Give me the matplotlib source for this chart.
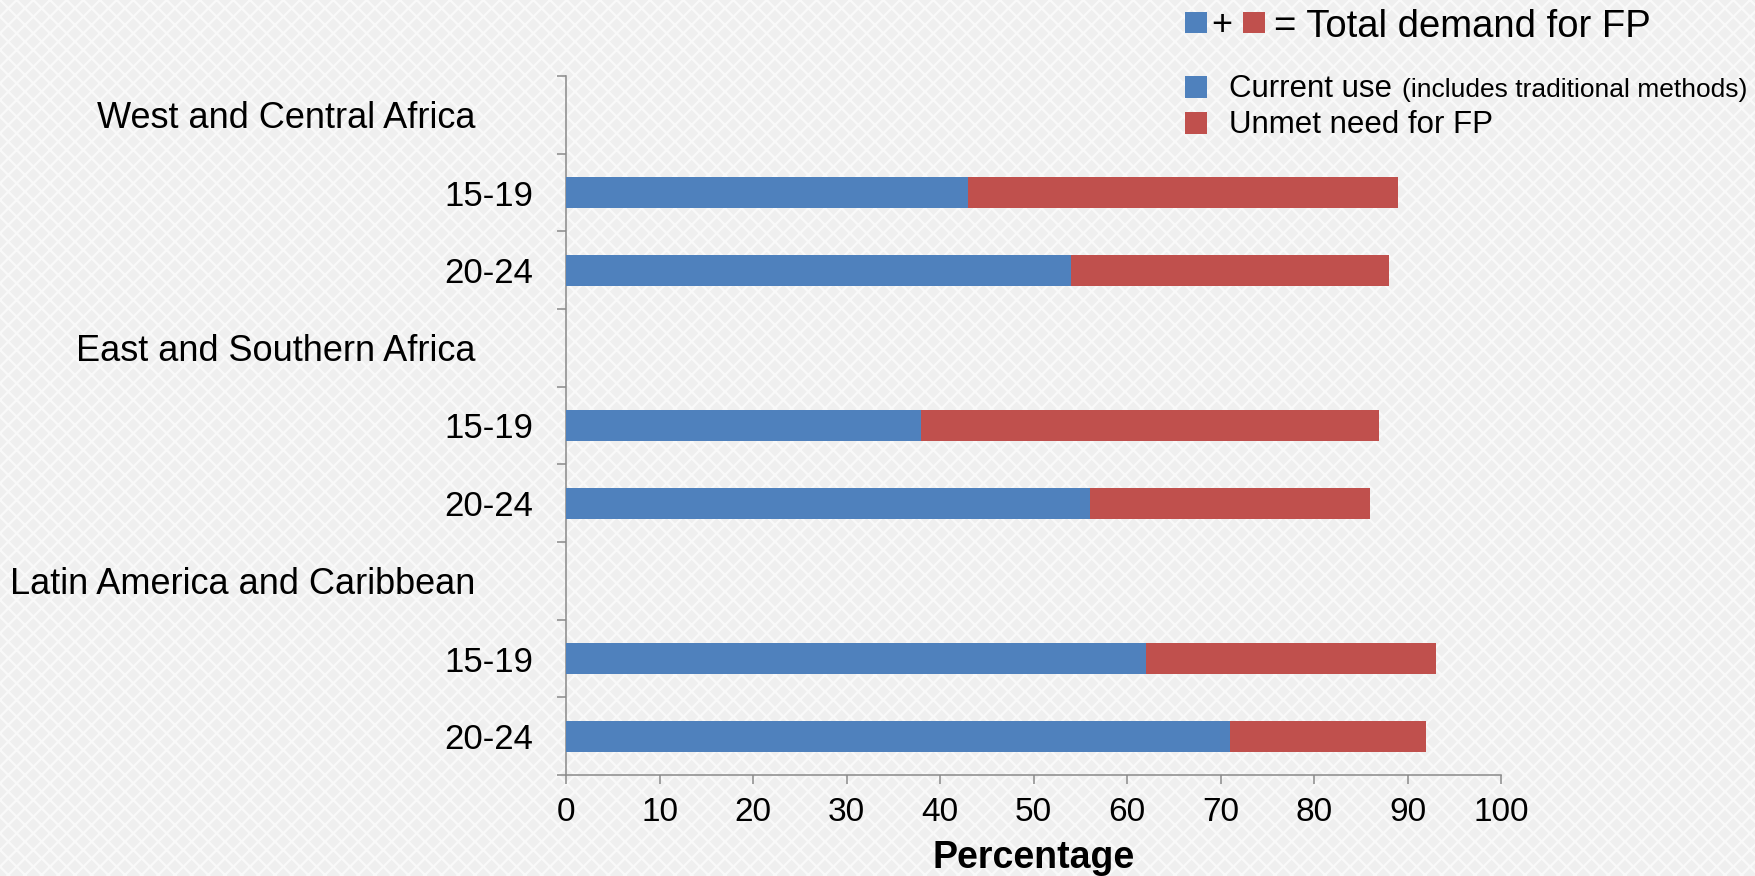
import matplotlib
matplotlib.use("Agg")
import matplotlib.pyplot as plt
from matplotlib.patches import Rectangle
import numpy as np

plt.rcParams['font.family'] = ['Liberation Sans', 'DejaVu Sans']
plt.rcParams['hatch.linewidth'] = 1.6

# data (percent)
regions = ["West and Central Africa", "East and Southern Africa", "Latin America and Caribbean"]
age_groups = ["15-19", "20-24"]
current_use = [43, 54, 38, 56, 62, 71]
unmet_need = [46, 34, 49, 30, 31, 21]
x_ticks = [0, 10, 20, 30, 40, 50, 60, 70, 80, 90, 100]

blue = '#4F81BD'
red = '#C0504D'
axis_grey = '#8a8a8a'

W, H = 1756, 876
fig = plt.figure(figsize=(W / 100, H / 100), dpi=100)

# crosshatched light background
fig.patches.append(Rectangle((0, 0), 1, 1, transform=fig.transFigure,
                             facecolor='#efefef', edgecolor='#f9f9f9',
                             hatch='xx', linewidth=0, zorder=-10))

ax = fig.add_axes([566 / W, 1 - 775 / H, 935 / W, 699 / H])
ax.set_facecolor('none')

# one header row per region followed by its age groups
n_per = len(age_groups) + 1
header_pos = [i * n_per for i in range(len(regions))]
bar_pos = [i * n_per + 1 + j for i in range(len(regions)) for j in range(len(age_groups))]
bar_labels = [a for _ in regions for a in age_groups]

ax.barh(bar_pos, current_use, height=0.4, color=blue, zorder=3)
ax.barh(bar_pos, unmet_need, left=current_use, height=0.4, color=red, zorder=3)

n_rows = n_per * len(regions)
ax.set_ylim(n_rows - 0.5, -0.5)
ax.set_xlim(0, 100)

ax.set_yticks(bar_pos)
ax.set_yticklabels(bar_labels, fontsize=25)
ax.set_yticks(np.arange(-0.5, n_rows, 1.0), minor=True)
ax.tick_params(axis='y', which='major', length=0, pad=23.5)
ax.tick_params(axis='y', which='minor', length=6.5, width=1.1, color=axis_grey, direction='out')

ax.set_xticks(x_ticks)
ax.set_xticklabels([str(t) for t in x_ticks], fontsize=24)
ax.tick_params(axis='x', length=6.5, width=1.1, color=axis_grey, direction='out', pad=9)

for s in ['top', 'right']:
    ax.spines[s].set_visible(False)
for s in ['left', 'bottom']:
    ax.spines[s].set_color(axis_grey)
    ax.spines[s].set_linewidth(1.1)

# region headers
tr = ax.get_yaxis_transform()
for name, y in zip(regions, header_pos):
    ax.text(-0.0973, y, name, transform=tr, ha='right', va='center_baseline', fontsize=26)

fig.text((566 + 935 / 2) / W, 1 - 868 / H, "Percentage", ha='center', va='baseline',
         fontsize=27, fontweight='bold')


# legend drawn by hand
def px_rect(x0, y0, x1, y1, color):
    fig.patches.append(Rectangle((x0 / W, 1 - y1 / H), (x1 - x0) / W, (y1 - y0) / H,
                                 transform=fig.transFigure, facecolor=color, edgecolor='none'))


px_rect(1185, 12, 1207, 33, blue)
fig.text(1211 / W, 1 - 35 / H, "+", fontsize=26, va='baseline')
px_rect(1243, 12, 1265, 33, red)
fig.text(1274 / W, 1 - 37 / H, "= Total demand for FP", fontsize=27.5, va='baseline')

px_rect(1185, 76, 1207, 98, blue)
t1 = fig.text(1229 / W, 1 - 97 / H, "Current use", fontsize=22.5, va='baseline')
px_rect(1185, 112, 1207, 134, red)
fig.text(1229 / W, 1 - 133 / H, "Unmet need for FP", fontsize=22.5, va='baseline')

fig.canvas.draw()
bb = t1.get_window_extent()
fig.text((bb.x1 + 10) / W, 1 - 97 / H, "(includes traditional methods)", fontsize=19, va='baseline')

fig.savefig("out.png", dpi=100)
